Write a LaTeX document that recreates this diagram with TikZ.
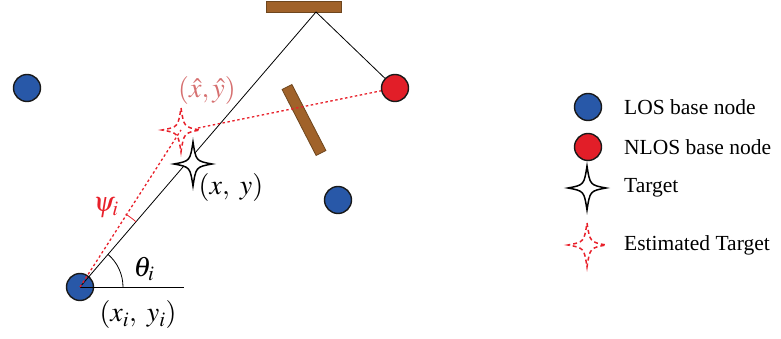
\documentclass[tikz,border=0pt]{standalone}
\usepackage{mathptmx}
\usepackage{fontspec}
\setmainfont{Liberation Serif}
\usetikzlibrary{calc}
\definecolor{losblue}{RGB}{40,88,168}
\definecolor{nlosred}{RGB}{226,30,40}
\definecolor{wallbrown}{RGB}{160,98,42}
\definecolor{walledge}{RGB}{110,70,30}
\definecolor{estred}{RGB}{232,32,42}
\definecolor{estpink}{RGB}{214,112,112}
\begin{document}
\begin{tikzpicture}[x=1pt,y=1pt,
  every node/.style={font=\fontsize{21.5}{26}\selectfont},
  basenode/.style={circle, draw=black!90, line width=1.4pt, minimum size=27pt, inner sep=0pt},
  losnode/.style={basenode, fill=losblue},
  nlosnode/.style={basenode, fill=nlosred},
  wall/.style={fill=wallbrown, draw=walledge, line width=0.8pt},
  ray/.style={draw=black, line width=0.8pt},
  estray/.style={draw=estred, line width=1.3pt, dash pattern=on 2.5pt off 2.5pt},
  label/.style={inner sep=0pt, font=\fontsize{28}{32}\selectfont},
  legtext/.style={inner sep=1pt, anchor=west},
  fourstar/.pic={\path[pic actions] (0,22) .. controls (3,3) .. (19,0) .. controls (3,-3) .. (0,-22) .. controls (-3,-3) .. (-19,0) .. controls (-3,3) .. cycle;},
  tgtstar/.style={draw=black, fill=white, line width=1.5pt},
  eststar/.style={draw=estred, line width=1.5pt, dash pattern=on 4pt off 3pt}
]
\useasboundingbox (0,0) rectangle (781,339);

% walls
\draw[wall] (266,338) rectangle (341,327);
\draw[wall] (291.9,254.5) -- (325.9,188.5) -- (316.1,183.5) -- (282.1,249.5) -- cycle;
\coordinate (apex) at (316,327);

% base nodes
\node[losnode] (los1) at (27,251) {};
\node[losnode] (los2) at (338,139) {};
\node[losnode] (los3) at (80,52) {};
\node[nlosnode] (nlos) at (395,251) {};

% target and estimate
\coordinate (tgt) at (193,175);
\coordinate (est) at (181,209);
\coordinate (estR) at (198,211);
\coordinate (hend) at (184,52);

% rays
\draw[ray] (los3.center) -- (apex);
\draw[ray] (apex) -- (nlos);
\draw[ray] (los3.center) -- (hend);
\draw[estray] (los3.center) -- (est);
\draw[estray] (estR) -- (nlos);

% angles
\draw[ray] ($(los3.center)+(43,0)$) arc[start angle=0, end angle=49.4, radius=43pt];
\draw[draw=estred, line width=0.8pt] ($(los3.center)+(49.4:86pt)$) arc[start angle=49.4, end angle=58, radius=86pt];

\pic[tgtstar] at (tgt) {fourstar};
\pic[eststar] at (est) {fourstar};

% labels
\node[label] (lth) at (144,70) {$\theta_i$};
\node[label] (lxi) at (138,24) {$(x_i,\ y_i)$};
\node[label] (lxy) at (231,151) {$(x,\ y)$};
\node[label, text=estred] (lpsi) at (106,131) {$\psi_i$};
\node[label, text=estpink] (lhat) at (207,248) {$(\hat{x},\hat{y})$};

% legend
\node[losnode] (leg1) at (588,232) {};
\node[nlosnode] (leg2) at (588,192) {};
\pic[tgtstar] at (587,151) {fourstar};
\pic[eststar] at (587,94) {fourstar};
\node[legtext] (t1) at (623,232) {LOS base node};
\node[legtext] (t2) at (623,192) {NLOS base node};
\node[legtext] (t3) at (623,151) {Target};
\node[legtext] (t4) at (623,94) {Estimated Target};
\end{tikzpicture}
\end{document}
